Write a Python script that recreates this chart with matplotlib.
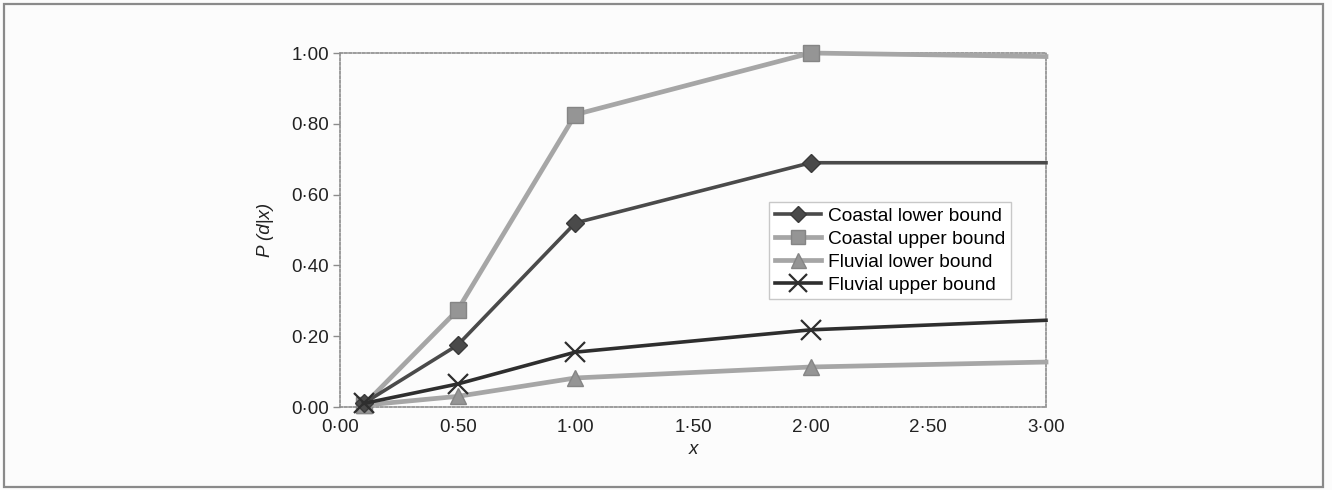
import matplotlib
matplotlib.use("Agg")
import matplotlib.pyplot as plt
from matplotlib.patches import Rectangle
from matplotlib.ticker import FuncFormatter

# Data
x_vals = [0.1, 0.5, 1.0, 2.0, 3.0]
coastal_lower = [0.01, 0.175, 0.52, 0.69, 0.69]
coastal_upper = [0.005, 0.274, 0.826, 1.0, 0.99]
fluvial_lower = [0.005, 0.03, 0.082, 0.113, 0.127]
fluvial_upper = [0.01, 0.065, 0.155, 0.218, 0.245]
series_names = ["Coastal lower bound", "Coastal upper bound",
                "Fluvial lower bound", "Fluvial upper bound"]
x_ticks = [0.0, 0.5, 1.0, 1.5, 2.0, 2.5, 3.0]
y_ticks = [0.0, 0.2, 0.4, 0.6, 0.8, 1.0]

plt.rcParams['font.family'] = ['Liberation Sans', 'DejaVu Sans']

W, H = 1332, 490
fig = plt.figure(figsize=(W / 100, H / 100), dpi=100)
fig.patch.set_facecolor('#fcfcfc')

# page frame
fig.add_artist(Rectangle((4 / W, 3 / H), (1323 - 4) / W, (486 - 3) / H,
                         transform=fig.transFigure, fill=False,
                         edgecolor='#8a8a8a', linewidth=1.6))

ax = fig.add_axes([340 / W, 1 - 407 / H, (1046 - 340) / W, (407 - 53) / H])
ax.set_facecolor('none')
ax.set_xlim(0, 3.0)
ax.set_ylim(0, 1.0)

marks = [0, 1, 2, 3]
ax.plot(x_vals, coastal_upper, color='#a6a6a6', lw=3.4, marker='s', ms=11,
        mfc='#959595', mec='#858585', markevery=marks, clip_on=False,
        label=series_names[1], zorder=3)
ax.plot(x_vals, fluvial_lower, color='#a6a6a6', lw=3.4, marker='^', ms=12,
        mfc='#959595', mec='#858585', markevery=marks, clip_on=False,
        label=series_names[2], zorder=3)
ax.plot(x_vals, coastal_lower, color='#4a4a4a', lw=2.6, marker='D', ms=9,
        mfc='#4a4a4a', mec='#3a3a3a', markevery=marks, clip_on=False,
        label=series_names[0], zorder=4)
ax.plot(x_vals, fluvial_upper, color='#2e2e2e', lw=2.6, marker='x', ms=14,
        mew=1.6, markevery=marks, clip_on=False,
        label=series_names[3], zorder=4)

for s in ax.spines.values():
    s.set_color('#8c8c8c')
    s.set_linestyle((0, (1.5, 1.2)))
    s.set_linewidth(1.2)

fmt = FuncFormatter(lambda v, p: f"{v:.2f}".replace('.', '\u00b7'))
ax.set_xticks(x_ticks)
ax.set_yticks(y_ticks)
ax.xaxis.set_major_formatter(fmt)
ax.yaxis.set_major_formatter(fmt)
ax.tick_params(axis='x', length=0, pad=9, labelsize=13.5, colors='#222222')
ax.tick_params(axis='y', length=5, width=1, color='#8c8c8c', pad=3,
               labelsize=13.5, labelcolor='#222222')

ax.set_xlabel('x', fontstyle='italic', fontsize=13.5, labelpad=3, color='#222222')
ax.set_ylabel('P (d|x)', fontstyle='italic', fontsize=13.5, labelpad=12, color='#222222')

handles, labels = ax.get_legend_handles_labels()
order = [2, 0, 1, 3]
leg = ax.legend([handles[i] for i in order], [labels[i] for i in order],
                loc='upper left', bbox_to_anchor=((769 - 340) / (1046 - 340), (407 - 202) / (407 - 53)),
                fontsize=13.8, frameon=True, fancybox=False, framealpha=1,
                edgecolor='#c8c8c8', handlelength=2.4, borderpad=0.3,
                labelspacing=0.28, handletextpad=0.4, borderaxespad=0,
                markerscale=0.9)
leg.get_frame().set_linewidth(1.0)

fig.savefig('out.png', dpi=100, facecolor=fig.get_facecolor())
